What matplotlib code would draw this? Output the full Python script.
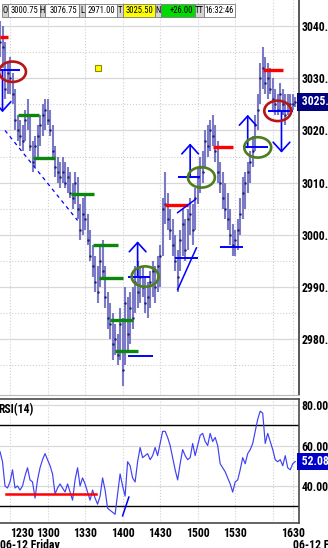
import pandas as pd
import matplotlib
matplotlib.use('Agg')
import matplotlib.pyplot as plt
import matplotlib.transforms as mtransforms
from matplotlib.patches import Ellipse, Rectangle
from matplotlib.ticker import FixedLocator

plt.rcParams['font.family'] = ['Roboto Condensed', 'DejaVu Sans']

day = '2015-06-12'
# 2-minute bars, 12:22-16:14, then 16:30-16:32 after the break
times = list(pd.date_range(day + ' 12:22', day + ' 16:14', freq='2min')) + \
    list(pd.date_range(day + ' 16:30', day + ' 16:32', freq='2min'))

highs = [3041, 3040, 3037, 3033, 3034, 3031, 3028, 3023, 3022, 3021,
         3024, 3026, 3023, 3018, 3019, 3021, 3023, 3025, 3026, 3026,
         3024, 3021, 3017, 3015, 3014, 3015, 3014, 3013, 3012, 3010,
         3012, 3011, 3006, 3007, 3008, 3004, 3001, 2998, 2996, 2994,
         2998, 2999, 2994, 2989, 2987, 2985, 2983, 2981, 2986, 2984,
         2990, 2988, 2989, 2990, 2994, 2995, 2994, 2994, 2992, 2991,
         2993, 2995, 2994, 2996, 2998, 3007, 3012, 3008, 3005, 3003,
         3000, 2997, 3001, 3005, 3003, 3005, 3007, 3006, 3009, 3013,
         3015, 3016, 3020, 3021, 3022, 3023, 3021, 3018, 3014, 3012,
         3010, 3008, 3005, 3002, 3001, 3003, 3007, 3011, 3012, 3014,
         3016, 3019, 3023, 3027, 3033, 3036, 3034, 3033, 3032, 3030,
         3028, 3027, 3029, 3028, 3027, 3027, 3027, 3027, 3026.5]
lows = [3034, 3032, 3026, 3027, 3027, 3025, 3020, 3018, 3017, 3016,
        3018, 3020, 3016, 3012, 3013, 3015, 3017, 3019, 3020, 3021,
        3019, 3015, 3011, 3010, 3009, 3010, 3009, 3008, 3007, 3005,
        3006, 3003, 2999, 3000, 3001, 2998, 2995, 2992, 2989, 2987,
        2990, 2992, 2986, 2982, 2980, 2976, 2977, 2975, 2976, 2971,
        2975, 2978, 2979, 2982, 2985, 2986, 2987, 2988, 2985, 2984,
        2986, 2988, 2987, 2989, 2990, 2996, 3002, 3001, 2999, 2996,
        2993, 2989, 2993, 2996, 2995, 2997, 3000, 2998, 3001, 3006,
        3008, 3010, 3013, 3015, 3016, 3017, 3014, 3010, 3008, 3005,
        3003, 3001, 2998, 2996, 2996, 2997, 3000, 3003, 3005, 3008,
        3010, 3013, 3016, 3020, 3025, 3028, 3027, 3026, 3027, 3024,
        3023, 3023, 3024, 3023, 3021, 3023, 3024, 3024, 3024.5]
closes = [3037, 3036, 3028, 3031, 3030, 3027, 3022, 3020, 3019, 3018,
          3022, 3023, 3017, 3014, 3017, 3019, 3021, 3023, 3024, 3022,
          3020, 3016, 3013, 3012, 3011, 3012, 3010, 3011, 3008, 3007,
          3010, 3005, 3001, 3004, 3003, 2999, 2996, 2994, 2991, 2989,
          2995, 2993, 2988, 2984, 2983, 2979, 2980, 2977, 2983, 2974,
          2987, 2981, 2986, 2984, 2991, 2989, 2992, 2990, 2987, 2988,
          2991, 2993, 2990, 2994, 2996, 3005, 3006, 3003, 3001, 2998,
          2995, 2992, 2999, 3002, 2997, 3003, 3004, 3001, 3007, 3011,
          3013, 3012, 3018, 3017, 3020, 3019, 3016, 3012, 3010, 3007,
          3005, 3003, 3000, 2998, 2999, 3001, 3004, 3008, 3010, 3012,
          3014, 3016, 3021, 3024, 3030, 3032, 3029, 3030, 3028, 3026,
          3025, 3024, 3027, 3025, 3023, 3025, 3025, 3025, 3025.5]
rsi = [57, 52, 40, 39, 42, 48, 39, 40, 38, 40,
       45, 49, 43, 42, 34, 43, 49, 53, 56, 53,
       50, 46, 36, 39, 41, 39, 37, 41, 37, 33,
       43, 49, 40, 44, 41, 37, 33, 38, 34, 31,
       35, 44, 38, 29, 28, 27, 26, 36, 46, 40,
       35, 52, 50, 44, 42, 52, 59, 54, 55, 56,
       53, 55, 59, 55, 61, 67, 67, 64, 60, 54,
       48, 43, 51, 58, 55, 53, 54, 61, 55, 60,
       65, 66, 62, 60, 66, 62, 64, 60, 51, 49,
       47, 44, 41, 37, 42, 43, 48, 54, 51, 56,
       58, 61, 67, 73, 77, 76, 61, 66, 62, 58,
       53, 52, 53, 50, 55, 49, 48, 51, 52.08]

price_ticks = [2980, 2990, 3000, 3010, 3020, 3030, 3040]
price_minor = [2975, 2985, 2995, 3005, 3015, 3025, 3035]
rsi_ticks = [40, 60, 80]
tick_times = ['12:30', '13:00', '13:30', '14:00', '14:30', '15:00', '15:30', '16:00', '16:30']
tick_labels = ['1230', '1300', '1330', '1400', '1430', '1500', '1530', '', '1630']

# drawn studies: (from, to, price)
red_levels = [('12:22', '12:28', 3038.0), ('14:34', '14:52', 3005.75),
              ('15:12', '15:28', 3016.75), ('15:52', '16:08', 3031.5)]
green_levels = [('12:36', '12:53', 3023.0), ('12:48', '13:06', 3014.75),
                ('13:19', '13:37', 3007.75), ('13:36', '13:56', 2998.0),
                ('13:41', '14:00', 2991.75), ('13:50', '14:08', 2983.75),
                ('13:54', '14:12', 2977.75)]
blue_levels = [('12:22', '12:38', 3031.5), ('14:04', '14:24', 2976.75),
               ('14:04', '14:22', 2992.0), ('14:42', '15:00', 2995.5),
               ('14:44', '15:02', 3011.0), ('15:18', '15:36', 2997.75),
               ('15:36', '15:56', 3016.75), ('15:56', '16:30', 3023.75)]
circles = [('12:32', 3031.25, '#b81414'), ('14:18', 2992.0, '#4e7d1e'),
           ('15:03', 3011.0, '#4e7d1e'), ('15:48', 3016.75, '#4e7d1e'),
           ('16:04', 3023.75, '#b81414')]
arrows = [('12:24', 3031.5, 3023.5), ('14:12', 2992.0, 2998.75),
          ('14:54', 3011.0, 3017.5), ('15:40', 3016.75, 3023.0),
          ('16:07', 3023.75, 3015.75)]
trend_lines = [('12:26', 3020.0, '13:24', 3002.75, '--'),
               ('14:44', 2989.5, '14:59', 2997.5, '-'),
               ('14:44', 3004.25, '14:58', 3006.75, '-')]
marker_square = ('13:40', 3032.0)
rsi_level = ('12:27', '13:39', 36.0)
rsi_trend = ('14:00', 25.25, '14:05', 34.5)

# toolbar: label, value, value background
quote_cells = [('O', '3000.75', 'white'), ('H', '3076.75', 'white'),
               ('L', '2971.00', 'white'), ('T', '3025.50', '#ffff00'),
               ('N', '+26.00', '#00dc00'), ('TT', '16:32:46', 'white')]
label_w = [6, 5, 6, 6, 6, 9]
value_w = [32, 34, 32, 32, 34, 31]
last_price = 3025.50
last_rsi = 52.08


def tpos(hhmm):
    t = pd.Timestamp(day + ' ' + hhmm)
    brk = pd.Timestamp(day + ' 16:30')
    if t >= brk:
        return 234 + (t - brk).total_seconds() / 60
    return (t - pd.Timestamp(day + ' 12:22')).total_seconds() / 60


pos = [tpos(t.strftime('%H:%M')) for t in times]
ticks = [tpos(t) for t in tick_times]

W, H = 328, 548
fig = plt.figure(figsize=(W / 100, H / 100), dpi=100)
ax = fig.add_axes([0, 153 / H, 299 / W, 395 / H])
ax_r = fig.add_axes([0, 25 / H, 299 / W, 124 / H], sharex=ax)

lab_font = dict(fontsize=8.5, fontweight='bold', color='black')

# price bars
ax.vlines(pos, lows, highs, color='#7a7ac6', lw=1.5, zorder=3)
ax.plot(pos, closes, ls='none', marker='.', ms=1.5, color='#22226e', zorder=4)

ax.set_xlim(0, 239)
ax.set_ylim(2969.3, 3045.0)
ax.yaxis.set_major_locator(FixedLocator(price_ticks))
ax.yaxis.set_minor_locator(FixedLocator(price_minor))
ax.set_xticks(ticks)
ax.grid(which='major', axis='y', color='#d8d8d8', lw=0.9)
ax.grid(which='minor', axis='y', color='#d0d0d0', lw=0.8, ls=':')
ax.grid(which='major', axis='x', color='#d0d0d0', lw=0.8, ls=':')
ax.yaxis.tick_right()
ax.yaxis.set_major_formatter(lambda v, p: f'{v:.2f}')
ax.tick_params(axis='y', which='both', length=0, pad=2, labelsize=8.5)
ax.tick_params(axis='x', length=0, labelbottom=False)
for t in ax.get_yticklabels():
    t.set_fontweight('bold')
for s in ['left', 'top']:
    ax.spines[s].set_visible(False)
ax.spines['right'].set_color('#4a4a4a')
ax.spines['right'].set_linewidth(1.3)
ax.spines['bottom'].set_color('#b8b8b8')

for a, b, p in red_levels:
    ax.plot([tpos(a), tpos(b)], [p, p], color='#ff0000', lw=2.4, solid_capstyle='butt', zorder=5)
for a, b, p in green_levels:
    ax.plot([tpos(a), tpos(b)], [p, p], color='#0b870b', lw=2.4, solid_capstyle='butt', zorder=5)
for a, b, p in blue_levels:
    ax.plot([tpos(a), tpos(b)], [p, p], color='#0000ff', lw=1.4, solid_capstyle='butt', zorder=6)
for t0, p0, t1, p1, ls in trend_lines:
    ax.plot([tpos(t0), tpos(t1)], [p0, p1], color='#0000ff', lw=0.9 if ls == '--' else 1.1,
            ls=ls, dashes=(3, 3) if ls == '--' else (None, None), zorder=6)
for t, p0, p1 in arrows:
    ax.annotate('', xy=(tpos(t), p1), xytext=(tpos(t), p0),
                arrowprops=dict(arrowstyle='->,head_length=0.55,head_width=0.5', color='#0000ff',
                                lw=1.2, shrinkA=0, shrinkB=0, mutation_scale=12), zorder=6)
for t, p, c in circles:
    ax.add_patch(Ellipse((tpos(t), p), width=21.5, height=3.9, fill=False, ec=c, lw=1.9, zorder=7))
ax.plot(tpos(marker_square[0]), marker_square[1], marker='s', ms=4, mfc='#ffff00', mec='#8c8c00',
        mew=0.8, zorder=6)

# last price box
tr = mtransforms.blended_transform_factory(ax.transAxes, ax.transData)
ax.text(1.0, last_price, f' {last_price:.2f}', transform=tr, ha='left', va='center',
        color='white', fontsize=8.5, fontweight='bold', clip_on=False,
        bbox=dict(boxstyle='square,pad=0.2', fc='#000080', ec='none'), zorder=10)

# RSI panel
ax_r.plot(pos, rsi, color='#4040f4', lw=0.85, zorder=3)
ax_r.axhline(70, color='black', lw=1.0, zorder=2)
ax_r.axhline(30, color='black', lw=1.0, zorder=2)
ax_r.plot([tpos(rsi_level[0]), tpos(rsi_level[1])], [rsi_level[2]] * 2, color='#ff0000', lw=1.8,
          zorder=4)
ax_r.plot([tpos(rsi_trend[0]), tpos(rsi_trend[2])], [rsi_trend[1], rsi_trend[3]], color='#0000ff',
          lw=1.1, zorder=4)
ax_r.set_ylim(21.7, 83.0)
ax_r.set_yticks(rsi_ticks)
ax_r.yaxis.tick_right()
ax_r.yaxis.set_major_formatter(lambda v, p: f'{v:.2f}')
ax_r.grid(which='major', axis='y', color='#d8d8d8', lw=0.9)
ax_r.grid(which='major', axis='x', color='#d0d0d0', lw=0.8, ls=':')
ax_r.set_xticks(ticks)
ax_r.set_xticklabels(tick_labels)
ax_r.tick_params(axis='y', length=0, pad=2, labelsize=8.5)
ax_r.tick_params(axis='x', length=0, pad=3, labelsize=8.5)
for t in ax_r.get_yticklabels() + ax_r.get_xticklabels():
    t.set_fontweight('bold')
ax_r.get_xticklabels()[0].set_ha('left')
ax_r.spines['left'].set_visible(False)
for s in ['top', 'right', 'bottom']:
    ax_r.spines[s].set_color('#4a4a4a')
    ax_r.spines[s].set_linewidth(1.2)
ax_r.text(-0.005, 0.97, 'RSI(14)', transform=ax_r.transAxes, ha='left', va='top', **lab_font)
tr_r = mtransforms.blended_transform_factory(ax_r.transAxes, ax_r.transData)
ax_r.text(1.0, last_rsi, f' {last_rsi:.2f}', transform=tr_r, ha='left', va='center',
          color='white', fontsize=8.5, fontweight='bold', clip_on=False,
          bbox=dict(boxstyle='square,pad=0.2', fc='#0000c8', ec='none'), zorder=10)

# overlay in pixel units: quote bar and date captions
ov = fig.add_axes([0, 0, 1, 1], zorder=20)
ov.set_xlim(0, W)
ov.set_ylim(H, 0)
ov.axis('off')
ov.patch.set_alpha(0)
x = 2
for (lab, val, bg), lw_, vw in zip(quote_cells, label_w, value_w):
    ov.add_patch(Rectangle((x, 4), lw_, 13, fc='#d4d4d4', ec='#7a7a7a', lw=0.6))
    ov.text(x + lw_ / 2, 10.8, lab, ha='center', va='center', fontsize=6.2, color='black')
    x += lw_
    ov.add_patch(Rectangle((x, 4), vw, 13, fc=bg, ec='#7a7a7a', lw=0.6))
    ov.text(x + vw - 1.5, 10.8, val, ha='right', va='center', fontsize=6.2, color='black')
    x += vw
ov.text(0, 539, '06-12 Friday', ha='left', va='top', **lab_font)
ov.text(293, 539, '06-12 Friday', ha='left', va='top', **lab_font)

fig.savefig('out.png', dpi=100)
